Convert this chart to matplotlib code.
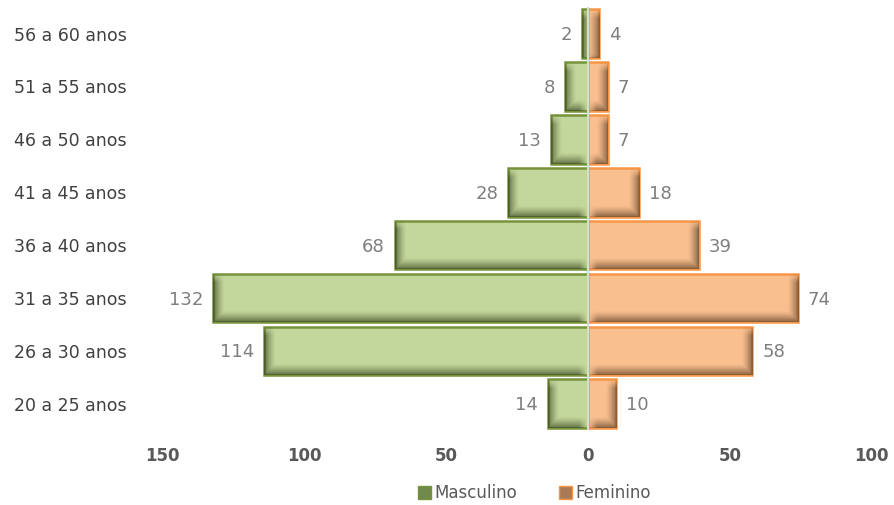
import numpy as np
import matplotlib.pyplot as plt
from matplotlib.patches import Patch

grupos = ['20 a 25 anos', '26 a 30 anos', '31 a 35 anos', '36 a 40 anos',
          '41 a 45 anos', '46 a 50 anos', '51 a 55 anos', '56 a 60 anos']
masculino = [14, 114, 132, 68, 28, 13, 8, 2]
feminino = [10, 58, 74, 39, 18, 7, 7, 4]
ticks = [-150, -100, -50, 0, 50, 100]
tick_labels = ['150', '100', '50', '0', '50', '100']

verde, verde_borda = '#c3d69b', '#77933c'
laranja, laranja_borda = '#fabf8f', '#f79646'
cinza = '#7f7f7f'

fig = plt.figure(figsize=(8.95, 5.05), dpi=100)
ax = fig.add_axes([0.181, 0.148, 0.793, 0.838])

y = np.arange(len(grupos))
h = 0.92
bm = ax.barh(y, -np.array(masculino), height=h, color=verde, edgecolor=verde_borda, linewidth=1.8, zorder=2)
bf = ax.barh(y, feminino, height=h, color=laranja, edgecolor=laranja_borda, linewidth=1.8, zorder=2)

px_x = 2.84   # pixels por unidade no eixo x
px_h = 48     # altura da barra em pixels

# sombra interna: lado externo da barra e embaixo
def sombra(bar, cor):
    x0, y0 = bar.get_x(), bar.get_y()
    w, hh = bar.get_width(), bar.get_height()
    nx, ny = 300, 80
    wpx = abs(w) * px_x
    xs = np.linspace(0, wpx, nx)           # da esquerda para a direita
    ys = np.linspace(0, px_h, ny)          # de cima para baixo (linha 0 = topo)
    if w < 0:
        d_ext = xs
    else:
        d_ext = wpx - xs
    d_int = wpx - d_ext
    d_top = ys
    d_bot = px_h - ys
    s = lambda d: np.clip(1 - d / 11.0, 0, 1) ** 1.3
    t = lambda d: np.clip(d / 9.0, 0, 1)
    lado = s(d_ext)[None, :] * t(d_top)[:, None]
    baixo = s(d_bot)[:, None] * t(d_int)[None, :]
    a = np.maximum(lado, baixo)
    img = np.zeros((ny, nx, 4))
    img[..., 0], img[..., 1], img[..., 2] = cor
    img[..., 3] = a * 0.7
    left = min(x0, x0 + w)
    im = ax.imshow(img, extent=[left, left + abs(w), y0, y0 + hh], aspect='auto',
                   origin='upper', zorder=2.5, interpolation='bilinear')
    im.set_clip_path(bar)

for b in bm:
    sombra(b, (0.22, 0.27, 0.12))
for b in bf:
    sombra(b, (0.35, 0.25, 0.15))

for i in range(len(grupos)):
    ax.text(-masculino[i] - 3.5, y[i] - 0.03, str(masculino[i]), ha='right', va='center',
            fontsize=13, color=cinza)
    ax.text(feminino[i] + 3.5, y[i] - 0.03, str(feminino[i]), ha='left', va='center',
            fontsize=13, color=cinza)

ax.axvline(0, color='#d9d9d9', linewidth=1.5, zorder=3)

ax.set_xlim(-150, 100)
ax.set_ylim(-0.5, len(grupos) - 0.5)
ax.set_xticks(ticks)
ax.set_xticklabels(tick_labels, fontsize=12, fontweight='bold', color='#595959')
ax.set_yticks(y)
ax.set_yticklabels(grupos, fontsize=12.5, color='#404040')
ax.tick_params(length=0, pad=12)
ax.tick_params(axis='y', pad=0)
for lbl in ax.get_yticklabels():
    lbl.set_horizontalalignment('left')
    lbl.set_x(-0.208)
for s in ax.spines.values():
    s.set_visible(False)

handles = [Patch(facecolor='#6f8a4a', edgecolor=verde_borda, label='Masculino'),
           Patch(facecolor='#a97a55', edgecolor=laranja_borda, label='Feminino')]
fig.legend(handles=handles, loc='center', bbox_to_anchor=(0.597, 0.023), ncol=2,
           frameon=False, fontsize=12, handlelength=0.8, handleheight=0.8,
           handletextpad=0.2, columnspacing=2.5, labelcolor='#595959')

fig.savefig('out.png', dpi=100)
